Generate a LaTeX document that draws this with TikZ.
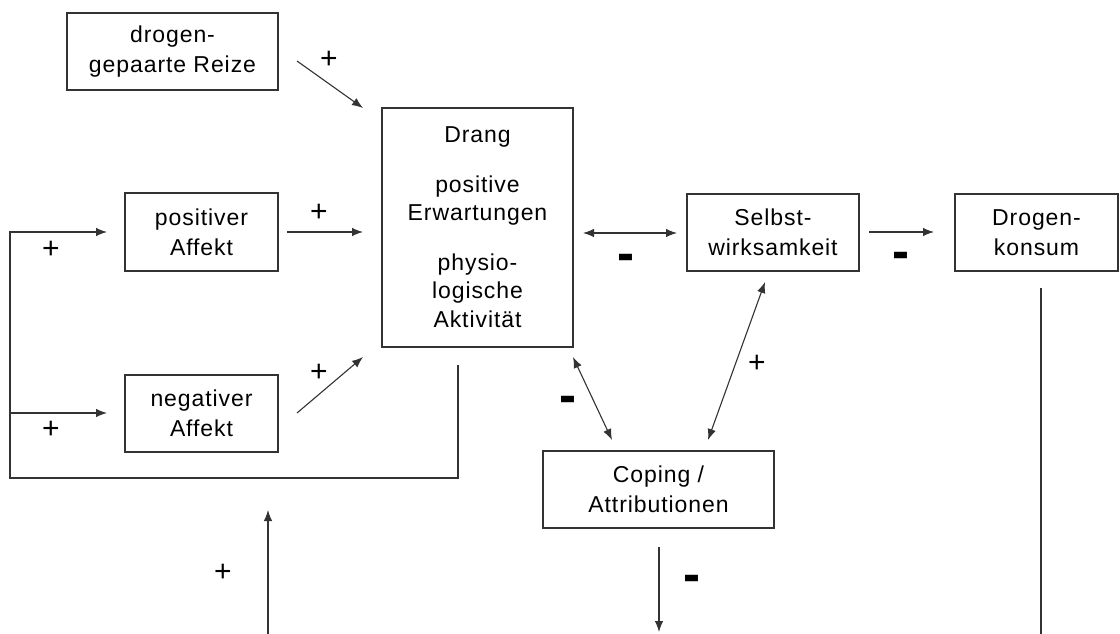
\documentclass[tikz,border=0pt]{standalone}
\usepackage{fontspec}
\setmainfont{Liberation Sans}[LetterSpace=4]
\usetikzlibrary{arrows.meta}
\definecolor{ink}{gray}{0.2}
\tikzset{
  box/.style={draw=ink, line width=1.2pt, inner sep=0pt, align=center,
    font=\fontsize{23}{30}\selectfont},
  tipA/.tip={Latex[length=11pt,width=8.5pt]},
  arr/.style={draw=ink, line width=1.1pt, -tipA},
  darr/.style={draw=ink, line width=1.1pt, tipA-tipA},
  plain/.style={draw=ink, line width=1.1pt},
  plus/.style={font=\fontsize{30}{30}\selectfont, inner sep=0pt},
  minus/.style={inner sep=0pt, font=\fontsize{30}{30}\selectfont\bfseries, xscale=1.7, yscale=1.8},
}
\begin{document}
\begin{tikzpicture}[x=1pt,y=-1pt]
\useasboundingbox[fill=white] (0,0) rectangle (1120,634);

% boxes
\node[box, minimum width=211pt, minimum height=77pt] (reize) at (172.5,51.5) {drogen-\\gepaarte Reize};
\node[box, minimum width=153pt, minimum height=78pt] (pos) at (201.5,232) {positiver\\Affekt};
\node[box, minimum width=153pt, minimum height=77pt] (neg) at (201.5,413.5) {negativer\\Affekt};
\node[box, minimum width=191pt, minimum height=239pt] (drang) at (477.5,227.5)
  {Drang\\[20pt]positive\\[-2pt]Erwartungen\\[20pt]physio-\\[-2pt]logische\\[-1pt]Aktivität};
\node[box, minimum width=172pt, minimum height=77pt] (selbst) at (773,232.5) {Selbst-\\wirksamkeit};
\node[box, minimum width=163pt, minimum height=77pt] (konsum) at (1036.5,232.5) {Drogen-\\konsum};
\node[box, minimum width=231pt, minimum height=77pt] (coping) at (658.5,489.5) {Coping /\\Attributionen};

% connector end points
\coordinate (a1) at (297,61);   \coordinate (a2) at (363,108);
\coordinate (b1) at (287,232);  \coordinate (b2) at (363,232);
\coordinate (c1) at (297,413);  \coordinate (c2) at (363,357);
\coordinate (d1) at (583,233);  \coordinate (d2) at (677,233);
\coordinate (e1) at (869,232);  \coordinate (e2) at (934,232);
\coordinate (f1) at (573,357);  \coordinate (f2) at (612,440);
\coordinate (g1) at (765,282);  \coordinate (g2) at (708,440);
\coordinate (h1) at (659,547);  \coordinate (h2) at (659,632);
\coordinate (k1) at (1041,288); \coordinate (k2) at (1041,634);
\coordinate (u1) at (268,634);  \coordinate (u2) at (268,510);
\coordinate (l0) at (458,365);  \coordinate (l1) at (458,478);
\coordinate (l2) at (10,478);   \coordinate (l3) at (10,232);
\coordinate (l4) at (107,232);  \coordinate (m1) at (10,413);
\coordinate (m2) at (107,413);

% connectors
\draw[arr] (a1) -- (a2);
\draw[arr] (b1) -- (b2);
\draw[arr] (c1) -- (c2);
\draw[darr] (d1) -- (d2);
\draw[arr] (e1) -- (e2);
\draw[darr] (f1) -- (f2);
\draw[darr] (g1) -- (g2);
\draw[arr] (h1) -- (h2);
\draw[plain] (k1) -- (k2);
\draw[arr] (u1) -- (u2);
\draw[arr] (l0) -- (l1) -- (l2) -- (l3) -- (l4);
\draw[arr] (m1) -- (m2);

% signs
\node[plus] (s1) at (329,60) {+};
\node[plus] (s2) at (319,213) {+};
\node[plus] (s3) at (319,373) {+};
\node[plus] (s4) at (51,250) {+};
\node[plus] (s5) at (51,430) {+};
\node[plus] (s6) at (757,364) {+};
\node[plus] (s7) at (223,573) {+};
\node[minus] (n1) at (626,263) {-};
\node[minus] (n2) at (901,261) {-};
\node[minus] (n3) at (568,405) {-};
\node[minus] (n4) at (692,584) {-};
\end{tikzpicture}
\end{document}
